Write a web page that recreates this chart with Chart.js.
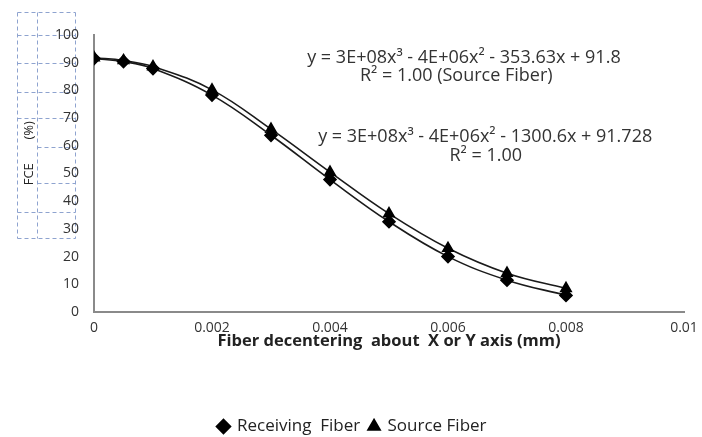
<!DOCTYPE html>
<html>
<head>
<meta charset="utf-8">
<script src="https://cdn.jsdelivr.net/npm/chart.js@4.4.1/dist/chart.umd.min.js"></script>
<style>
html,body{margin:0;padding:0;background:#fff;}
#wrap{width:702px;height:437px;position:relative;}
</style>
</head>
<body>
<div id="wrap"><canvas id="c" width="702" height="437"></canvas></div>
<script>
// Data
const xValues = [0, 0.0005, 0.001, 0.002, 0.003, 0.004, 0.005, 0.006, 0.007, 0.008];
const receivingFiber = [91.5, 90.4, 87.9, 78.3, 63.8, 47.8, 32.6, 20.0, 11.5, 6.0];
const sourceFiber = [91.8, 90.8, 88.6, 80.2, 66.0, 50.5, 35.5, 23.0, 14.0, 8.5];
const xTickLabels = ['0', '0.002', '0.004', '0.006', '0.008', '0.01'];
const yTickLabels = ['0', '10', '20', '30', '40', '50', '60', '70', '80', '90', '100'];
const seriesNames = ['Receiving  Fiber  ', 'Source Fiber'];
const annotationLines = [
  'y = 3E+08x\u00B3 - 4E+06x\u00B2 - 353.63x + 91.8',
  'R\u00B2 = 1.00 (Source Fiber)',
  'y = 3E+08x\u00B3 - 4E+06x\u00B2 - 1300.6x + 91.728',
  'R\u00B2 = 1.00'
];
// anchor (x, y) of each annotation line, in data units
const annotationX = [0.00627, 0.00614, 0.00663, 0.00664];
const annotationY = [91.7, 85.2, 63.2, 56.3];

const FONT = '"Open Sans", Lato, sans-serif';

function toPoints(ys) { return xValues.map((x, i) => ({x: x, y: ys[i]})); }

const extras = {
  id: 'extras',
  beforeDraw(chart) {
    const ctx = chart.ctx;
    ctx.save();
    ctx.strokeStyle = '#8ea3cf';
    ctx.lineWidth = 1;
    ctx.setLineDash([4, 3]);
    const L = 17.5, M = 37.5, R = 75.5;
    const hFull = [12.5, 35.5, 63.5, 92.5, 118.5, 212.5, 238.5];
    hFull.forEach(y => { ctx.beginPath(); ctx.moveTo(L, y); ctx.lineTo(R, y); ctx.stroke(); });
    [147.5, 183.5].forEach(y => { ctx.beginPath(); ctx.moveTo(M, y); ctx.lineTo(R, y); ctx.stroke(); });
    [L, M, R].forEach(x => { ctx.beginPath(); ctx.moveTo(x, 12.5); ctx.lineTo(x, 238.5); ctx.stroke(); });
    ctx.restore();
  },
  afterDraw(chart) {
    const ctx = chart.ctx;
    const xs = chart.scales.x, ys = chart.scales.y;
    ctx.save();
    ctx.fillStyle = '#333';
    ctx.font = '18px ' + FONT;
    ctx.textAlign = 'center';
    ctx.textBaseline = 'middle';
    annotationLines.forEach((t, i) => {
      ctx.fillText(t, xs.getPixelForValue(annotationX[i]), ys.getPixelForValue(annotationY[i]));
    });
    ctx.restore();
  }
};

new Chart(document.getElementById('c'), {
  type: 'scatter',
  data: {
    datasets: [
      {
        label: seriesNames[0],
        data: toPoints(receivingFiber),
        showLine: true,
        borderColor: '#1a1a1a',
        backgroundColor: '#000',
        borderWidth: 1.6,
        tension: 0.4,
        pointStyle: 'rectRot',
        pointRadius: 6,
        pointHoverRadius: 6,
        pointBorderColor: '#000',
        pointBackgroundColor: '#000'
      },
      {
        label: seriesNames[1],
        data: toPoints(sourceFiber),
        showLine: true,
        borderColor: '#1a1a1a',
        backgroundColor: '#000',
        borderWidth: 1.6,
        tension: 0.4,
        pointStyle: 'triangle',
        pointRadius: 6,
        pointHoverRadius: 6,
        pointBorderColor: '#000',
        pointBackgroundColor: '#000'
      }
    ]
  },
  options: {
    responsive: false,
    animation: false,
    devicePixelRatio: 1,
    layout: { padding: { top: 35, right: 18, left: 21, bottom: -8 } },
    plugins: {
      tooltip: { enabled: false },
      legend: {
        position: 'bottom',
        labels: {
          usePointStyle: true,
          boxWidth: 10,
          boxHeight: 10,
          padding: 0,
          color: '#222',
          font: { family: FONT, size: 17 }
        }
      }
    },
    scales: {
      x: {
        type: 'linear',
        min: 0,
        max: 0.01,
        afterFit: (s) => { s.height = 106; },
        grid: { display: false, drawTicks: true, tickLength: 6, tickColor: '#777' },
        border: { display: true, color: '#8a8a8a', width: 2 },
        ticks: {
          stepSize: 0.002,
          color: '#333',
          font: { family: FONT, size: 14 },
          padding: 2,
          callback: (v, i) => xTickLabels[i]
        },
        title: {
          display: true,
          text: 'Fiber decentering  about  X or Y axis (mm)',
          color: '#222',
          font: { family: FONT, size: 16.5, weight: 'bold' },
          padding: { top: 2, bottom: 67 }
        }
      },
      y: {
        type: 'linear',
        min: 0,
        max: 100,
        afterFit: (s) => { s.width = 73; },
        grid: { display: false, drawTicks: true, tickLength: 5, tickColor: '#777' },
        border: { display: true, color: '#8a8a8a', width: 2 },
        ticks: {
          stepSize: 10,
          color: '#333',
          font: { family: FONT, size: 14 },
          padding: 10,
          callback: (v, i) => yTickLabels[i]
        },
        title: {
          display: true,
          text: '            FCE       (%)',
          color: '#222',
          font: { family: FONT, size: 13 },
          padding: { top: 0, bottom: 0 }
        }
      }
    }
  },
  plugins: [extras]
});
</script>
</body>
</html>
